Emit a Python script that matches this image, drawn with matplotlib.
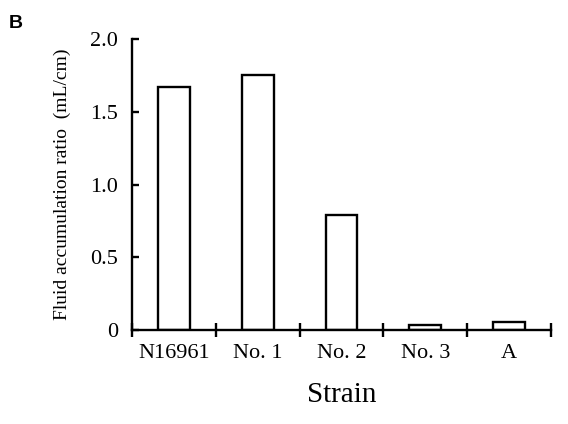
import matplotlib
matplotlib.use("Agg")
import matplotlib.pyplot as plt

strains = ["N16961", "No. 1", "No. 2", "No. 3", "A"]
ratios = [1.67, 1.75, 0.79, 0.034, 0.053]
yticks = [0, 0.5, 1.0, 1.5, 2.0]
ytick_labels = ["0", "0.5", "1.0", "1.5", "2.0"]

plt.rcParams['font.family'] = ['Liberation Serif', 'DejaVu Serif']

fig = plt.figure(figsize=(5.68, 4.24), dpi=100)
ax = fig.add_axes([132/568, 1-330/424, (551-132)/568, (330-39)/424])

x = list(range(len(strains)))
ax.bar(x, ratios, width=0.38, facecolor='white', edgecolor='black', linewidth=1.7, zorder=3)

ax.set_xlim(-0.5, len(strains) - 0.5)
ax.set_ylim(0, 2.0)
for s in ['top', 'right']:
    ax.spines[s].set_visible(False)
for s in ['left', 'bottom']:
    ax.spines[s].set_linewidth(1.7)
    ax.spines[s].set_zorder(4)

ax.set_yticks(yticks)
ax.set_yticklabels(ytick_labels, fontsize=16)
ax.tick_params(axis='y', direction='in', length=5, width=1.7, pad=10)

# category boundary ticks
bounds = [i - 0.5 for i in range(len(strains) + 1)]
ax.set_xticks(bounds)
ax.set_xticklabels([''] * len(bounds))
ax.tick_params(axis='x', which='major', direction='inout', length=10, width=1.7)
ax.set_xticks(x, minor=True)
ax.set_xticklabels(strains, minor=True, fontsize=16)
ax.tick_params(axis='x', which='minor', length=0, pad=10)

ax.set_xlabel("Strain", fontsize=21, labelpad=14)
ax.set_ylabel("Fluid accumulation ratio  (mL/cm)", fontsize=14, labelpad=14)

fig.text(9/568, 1-23/424, "B", fontsize=14, fontweight='bold', family='Liberation Sans', va='center', ha='left')

fig.savefig("out.png", dpi=100)
